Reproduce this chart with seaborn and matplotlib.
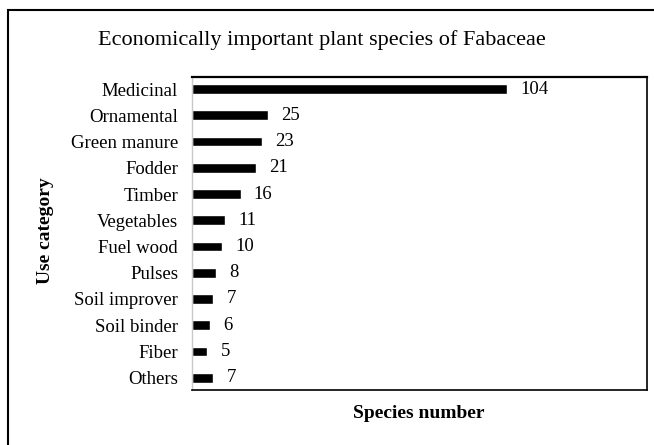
import matplotlib
matplotlib.use("Agg")
import matplotlib.pyplot as plt
import seaborn as sns
import pandas as pd
from matplotlib.patches import Rectangle

categories = ["Medicinal", "Ornamental", "Green manure", "Fodder", "Timber", "Vegetables",
              "Fuel wood", "Pulses", "Soil improver", "Soil binder", "Fiber", "Others"]
values = [104, 25, 23, 21, 16, 11, 10, 8, 7, 6, 5, 7]
value_labels = ["104", "25", "23", "21", "16", "11", "10", "8", "7", "6", "5", "7"]

sns.set_theme(style="white")
plt.rcParams["font.family"] = ["Liberation Serif", "DejaVu Serif"]

df = pd.DataFrame({"category": categories, "value": values})

W, H = 654, 445
fig = plt.figure(figsize=(W / 100, H / 100), dpi=100)
ax = fig.add_axes([192 / W, 1 - 390 / H, (647 - 192) / W, (390 - 77) / H])

sns.barplot(data=df, y="category", x="value", orient="h", color="black",
            width=0.37, ax=ax, saturation=1)

ax.set_xlim(0, 150)
ax.set_ylim(11.47, -0.46)
ax.set_xticks([])
ax.tick_params(axis="y", length=0, pad=10, labelsize=13.5, colors="black")
ax.set_ylabel("")
ax.set_xlabel("")

for i, (v, lab) in enumerate(zip(values, value_labels)):
    ax.text(v + 4.4, i, lab, va="center", ha="left", fontsize=13.5, color="black")

for side in ["top", "right", "bottom"]:
    ax.spines[side].set_visible(True)
    ax.spines[side].set_color("black")
ax.spines["top"].set_linewidth(1.6)
ax.spines["right"].set_linewidth(1.2)
ax.spines["bottom"].set_linewidth(1.2)
ax.spines["left"].set_color("#c8c8c8")
ax.spines["left"].set_linewidth(1.0)

fig.text(322 / W, 1 - 40 / H, "Economically important plant species of Fabaceae",
         ha="center", va="center", fontsize=16, color="black")
fig.text(45 / W, 1 - 231 / H, "Use category", rotation=90, ha="center", va="center",
         fontsize=14, fontweight="bold", color="black")
fig.text(419 / W, 1 - 414 / H, "Species number", ha="center", va="center",
         fontsize=14, fontweight="bold", color="black")

fig.patches.append(Rectangle((8 / W, -0.1), 1.2, 1 - 10 / H + 0.1, transform=fig.transFigure,
                             fill=False, edgecolor="black", linewidth=1.5, clip_on=False))

fig.savefig("out.png", dpi=100)
